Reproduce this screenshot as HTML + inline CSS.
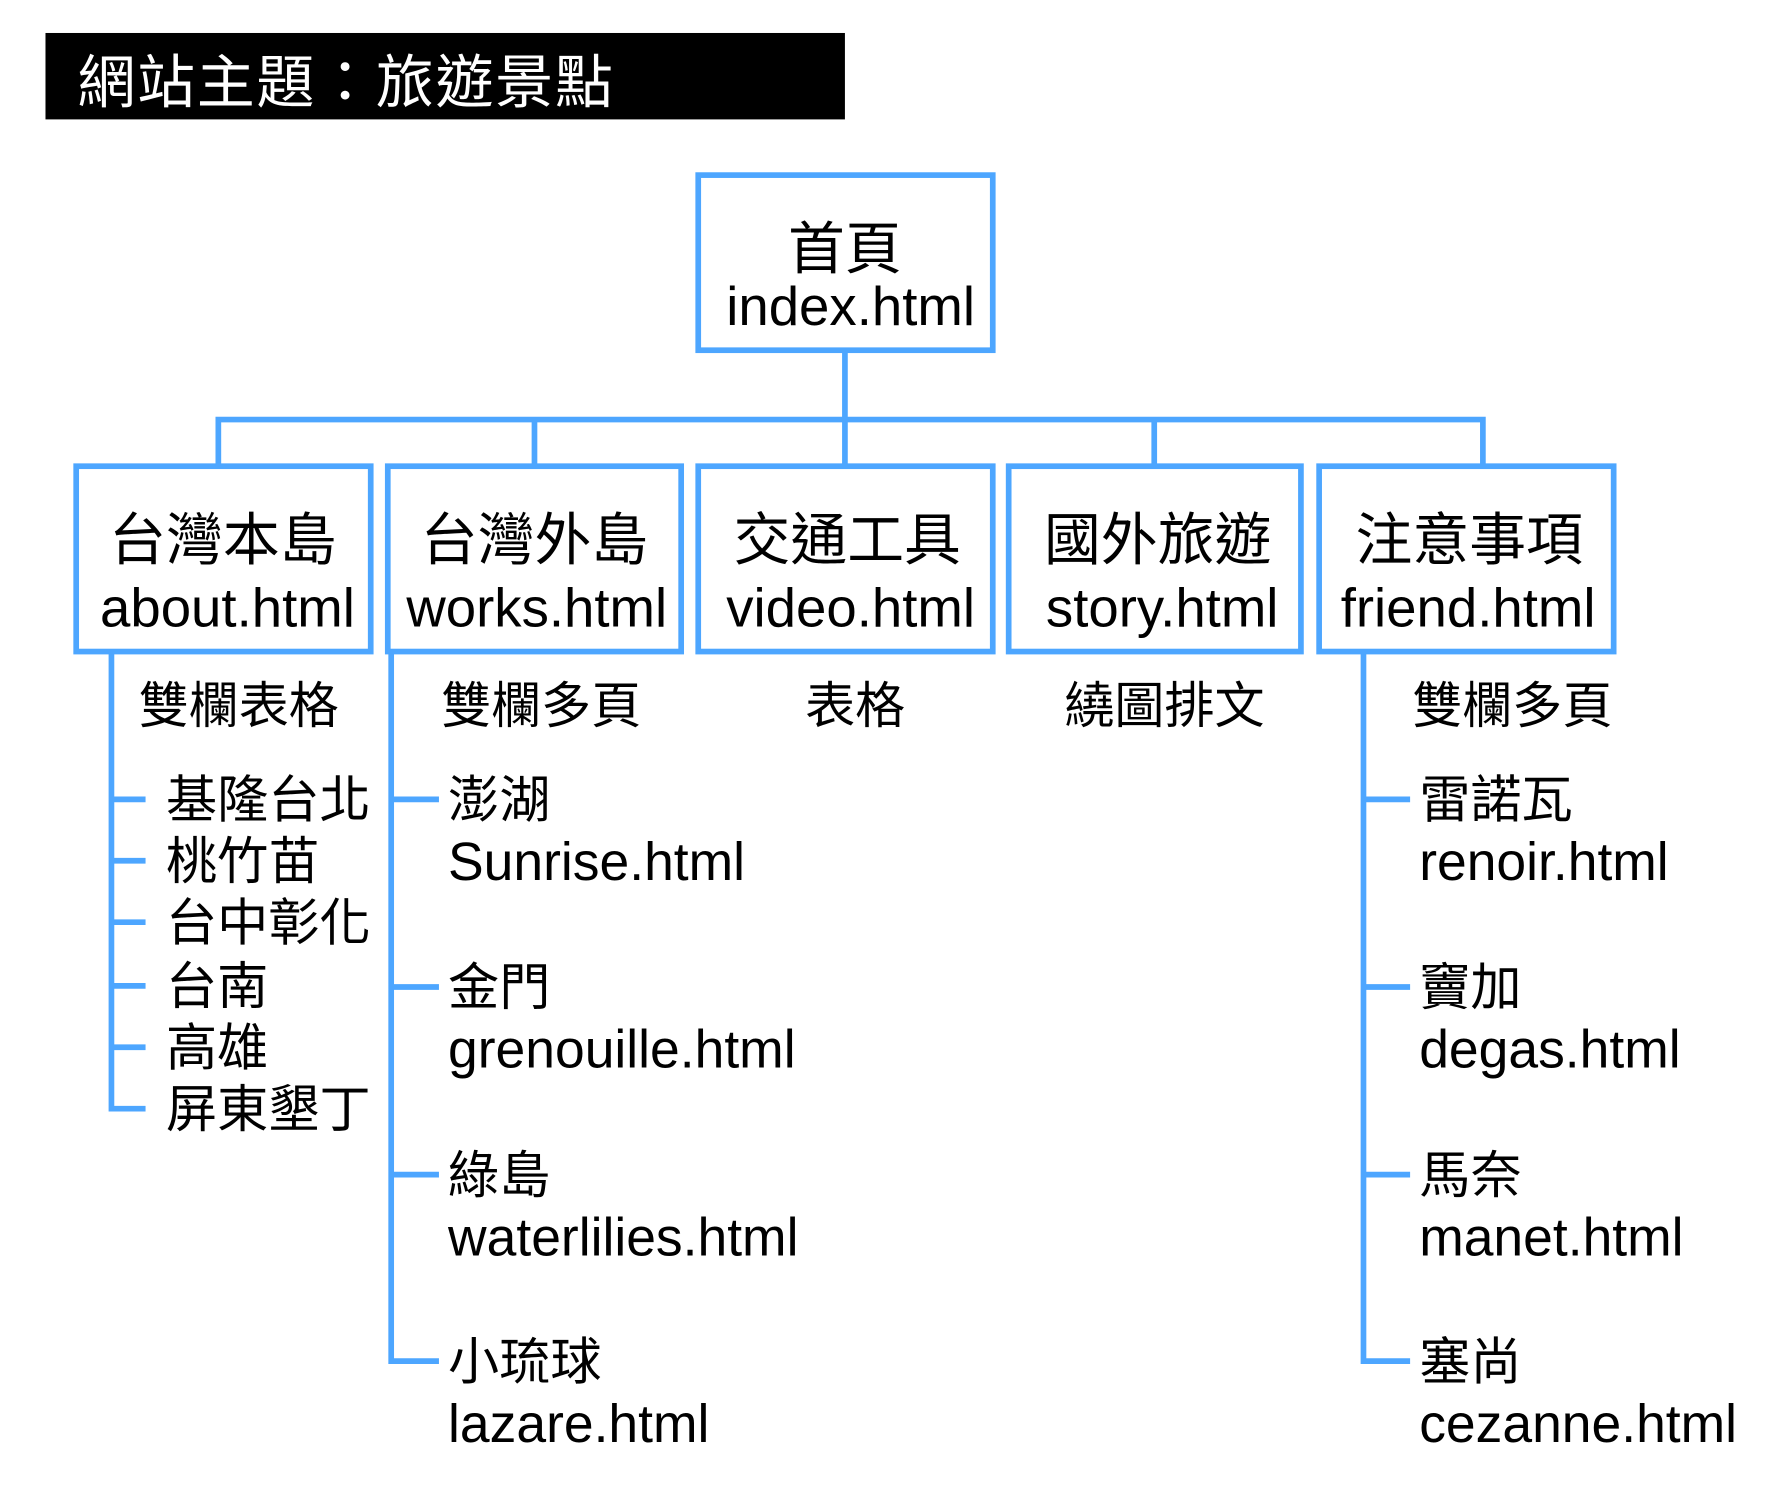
<!DOCTYPE html>
<html><head><meta charset="utf-8"><style>
html,body{margin:0;padding:0;background:#fff;}
svg{display:block;}
text{font-family:"Liberation Sans","Noto Sans CJK TC",sans-serif;fill:#000;}
</style></head><body>
<svg width="1774" height="1493" viewBox="0 0 1560 1313" preserveAspectRatio="none" xmlns="http://www.w3.org/2000/svg">
<rect x="40" y="29" width="703" height="76" fill="#000"/>
<text x="68" y="90" font-size="51" letter-spacing="1.5" style="fill:#fff">網站主題：旅遊景點</text>
<g fill="none" stroke="#4da6ff" stroke-width="5">
<rect x="614" y="154" width="259" height="154"/>
<rect x="67" y="410" width="259" height="163"/>
<rect x="341" y="410" width="258" height="163"/>
<rect x="614" y="410" width="259" height="163"/>
<rect x="887" y="410" width="257" height="163"/>
<rect x="1160" y="410" width="259" height="163"/>
<path d="M743 310V369M192 408V369H1304V408M470 369V408M743 369V408M1015 369V408"/>
<path d="M98 575V975H128M98 703H128M98 757H128M98 811H128M98 867H128M98 921H128"/>
<path d="M344 575V1197H386M344 703H386M344 868H386M344 1033H386"/>
<path d="M1199 575V1197H1240M1199 703H1240M1199 868H1240M1199 1033H1240"/>
</g>
<g font-size="50" text-anchor="middle">
<text x="743" y="236">首頁</text>
<text x="196" y="492">台灣本島</text>
<text x="470" y="492">台灣外島</text>
<text x="745" y="492">交通工具</text>
<text x="1018" y="492">國外旅遊</text>
<text x="1292" y="492">注意事項</text>
</g>
<g font-size="48" text-anchor="middle">
<text x="748" y="286">index.html</text>
<text x="200" y="551">about.html</text>
<text x="472" y="551">works.html</text>
<text x="748" y="551">video.html</text>
<text x="1022" y="551">story.html</text>
<text x="1291" y="551">friend.html</text>
</g>
<g font-size="44" text-anchor="middle">
<text x="210" y="636">雙欄表格</text>
<text x="476" y="636">雙欄多頁</text>
<text x="752" y="636">表格</text>
<text x="1024" y="636">繞圖排文</text>
<text x="1330" y="636">雙欄多頁</text>
</g>
<g font-size="45">
<text x="146" y="719">基隆台北</text>
<text x="146" y="773">桃竹苗</text>
<text x="146" y="827">台中彰化</text>
<text x="146" y="883">台南</text>
<text x="146" y="937">高雄</text>
<text x="146" y="991">屏東墾丁</text>
<text x="394" y="719">澎湖</text>
<text x="394" y="884">金門</text>
<text x="394" y="1049">綠島</text>
<text x="394" y="1213">小琉球</text>
<text x="1248" y="719">雷諾瓦</text>
<text x="1248" y="884">竇加</text>
<text x="1248" y="1049">馬奈</text>
<text x="1248" y="1213">塞尚</text>
</g>
<g font-size="47">
<text x="394" y="774">Sunrise.html</text>
<text x="394" y="939">grenouille.html</text>
<text x="394" y="1104">waterlilies.html</text>
<text x="394" y="1268">lazare.html</text>
<text x="1248" y="774">renoir.html</text>
<text x="1248" y="939">degas.html</text>
<text x="1248" y="1104">manet.html</text>
<text x="1248" y="1268">cezanne.html</text>
</g>
</svg>
</body></html>
